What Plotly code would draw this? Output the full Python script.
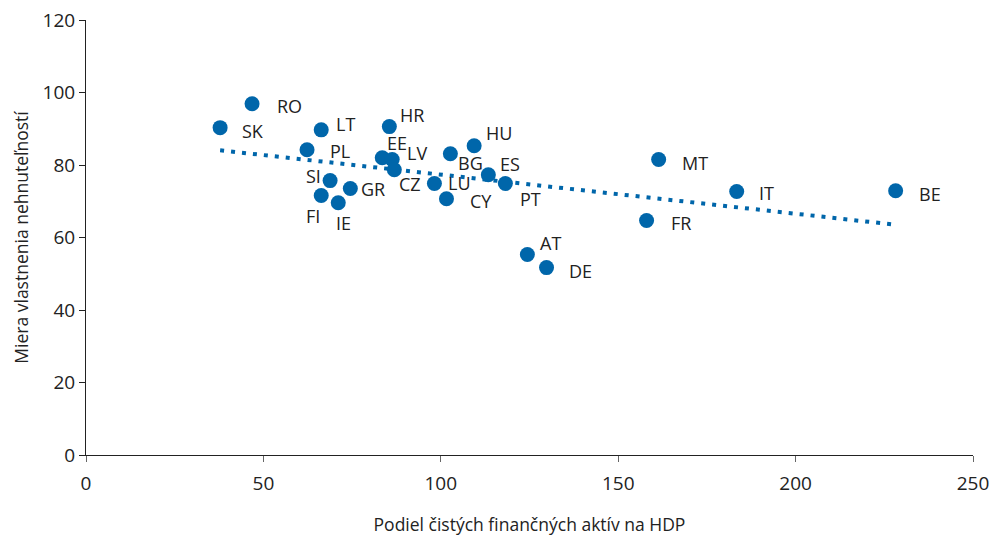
import numpy as np
import plotly.graph_objects as go

# country codes, net financial assets to GDP (x), home ownership rate (y)
countries = ["SK", "RO", "LT", "PL", "HR", "EE", "LV", "CZ", "SI", "FI", "IE", "GR",
             "BG", "HU", "LU", "CY", "ES", "PT", "AT", "DE", "MT", "FR", "IT", "BE"]
fin_assets = [37.8, 46.8, 66.3, 62.3, 85.5, 83.5, 86.3, 86.9, 68.8, 66.3, 71.1, 74.5,
              102.7, 109.4, 98.2, 101.6, 113.4, 118.2, 124.4, 129.8, 161.4, 158.0, 183.4, 228.2]
ownership = [90.3, 96.9, 89.7, 84.2, 90.6, 82.0, 81.5, 78.7, 75.7, 71.6, 69.6, 73.5,
             83.1, 85.3, 74.9, 70.7, 77.3, 74.9, 55.3, 51.7, 81.5, 64.7, 72.7, 72.9]

# label offsets in px (styling only)
label_shift = {
    "SK": (33, -3), "RO": (37, -2), "LT": (24, 6), "PL": (33, -1), "HR": (23, 12),
    "EE": (15, 15), "LV": (25, 7), "CZ": (16, -14), "SI": (-17, 5), "FI": (-8, -21),
    "IE": (5, -20), "GR": (23, 0), "BG": (20, -9), "HU": (25, 13), "LU": (25, 0),
    "CY": (35, -2), "ES": (22, 11), "PT": (25, -16), "AT": (23, 12), "DE": (34, -3),
    "MT": (36, -3), "FR": (34, -3), "IT": (30, -2), "BE": (34, -3),
}

blue = "#0066aa"
font = "Open Sans"
ink = "#222222"

# linear trend (OLS)
slope, icpt = np.polyfit(fin_assets, ownership, 1)
trend_x = [min(fin_assets), max(fin_assets)]
trend_y = [slope * v + icpt for v in trend_x]

fig = go.Figure()
fig.add_trace(go.Scatter(x=trend_x, y=trend_y, mode="lines",
                         line=dict(color=blue, width=4, dash="4px,7px"),
                         hoverinfo="skip", showlegend=False))
fig.add_trace(go.Scatter(x=fin_assets, y=ownership, mode="markers",
                         marker=dict(color=blue, size=15, line=dict(width=0)),
                         text=countries, showlegend=False))

for c, xv, yv in zip(countries, fin_assets, ownership):
    dx, dy = label_shift[c]
    fig.add_annotation(x=xv, y=yv, text=c, showarrow=False, xshift=dx, yshift=dy,
                       font=dict(size=18, color=ink, family=font))

fig.update_layout(
    width=992, height=536,
    margin=dict(l=86, r=19, t=20, b=81),
    plot_bgcolor="white", paper_bgcolor="white",
    font=dict(family=font, size=19, color=ink),
)
fig.update_xaxes(range=[0, 250], dtick=50, showgrid=False, zeroline=False,
                 showline=True, linecolor=ink, linewidth=1, automargin=False,
                 ticks="outside", ticklen=6, tickcolor="#666666", ticklabelstandoff=5,
                 title=dict(text="Podiel čistých finančných aktív na HDP", standoff=36,
                            font=dict(size=17.5)))
fig.update_yaxes(range=[0, 120], dtick=20, showgrid=False, zeroline=False,
                 showline=True, linecolor=ink, linewidth=1, automargin=False,
                 ticks="outside", ticklen=6, tickcolor=ink,
                 title=dict(text="Miera vlastnenia nehnuteľností", standoff=9,
                            font=dict(size=17.5)))

# drop the default body margin so the figure sits at the window's corner
fig.write_html("out.html", config={"displayModeBar": False},
               post_script="document.body.style.margin='0';")
